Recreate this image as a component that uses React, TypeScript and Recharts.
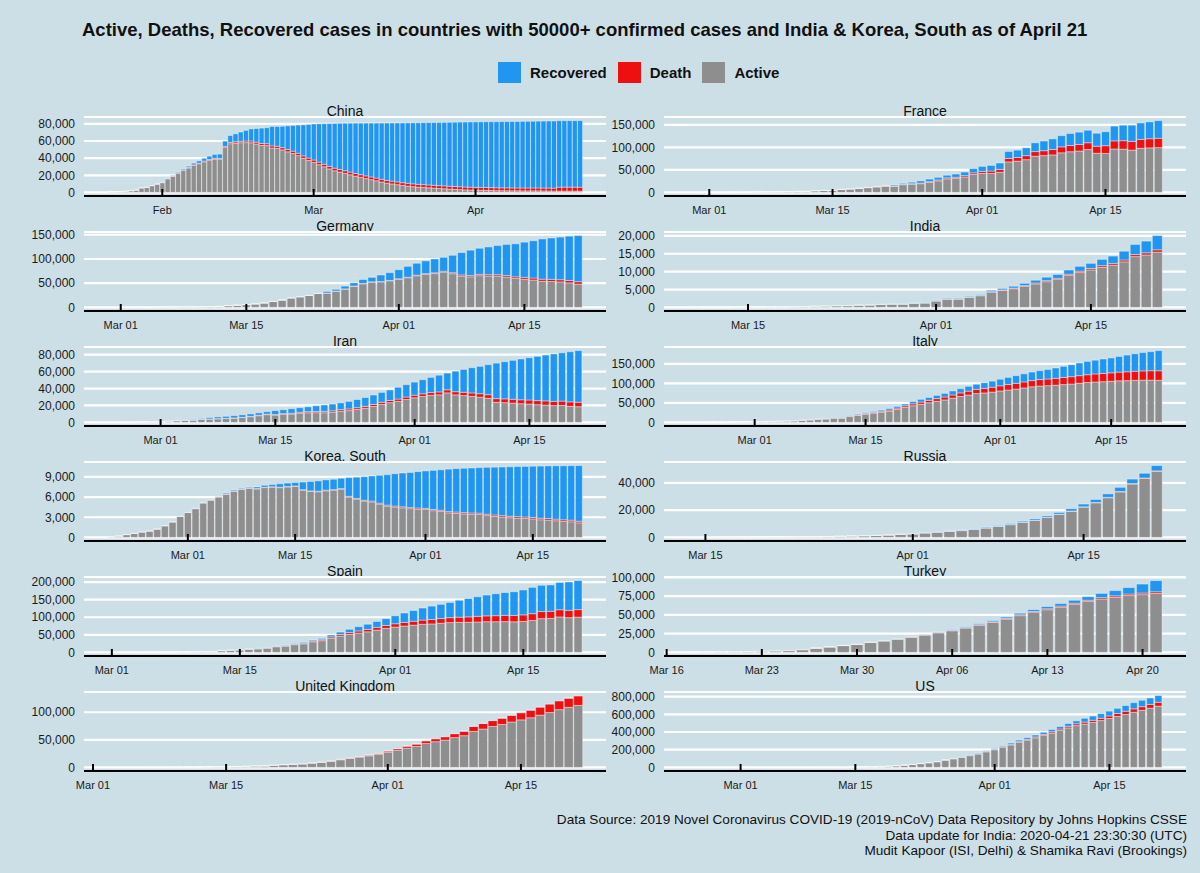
import React from 'react';
import { BarChart, Bar, XAxis, YAxis, CartesianGrid } from 'recharts';

// ---------------- DATA ----------------
const chinaStart = '2020-01-22';
const chinaActive = [503,595,858,1325,1970,2737,5277,5834,7835,9375,
  11357,15806,18677,22374,25763,28479,31395,33415,35707,37426,38640,38564,52314,56865,57457,58000,58116,58010,56553,54839,54621,51873,51409,49658,47441,45398,42958,39849,37242,
  34944,32414,29912,27450,25284,23760,22222,20600,18936,17570,16119,14862,13573,12128,10787,9910,9034,8110,7376,6731,6189,5799,5410,5030,4603,4310,3881,3600,3236,2967,2764,
  2640,2545,2425,2267,2062,2020,1973,1905,1865,1810,1794,1835,1829,1761,1699,1656,1495,1491,1489,1476,1477];
const chinaDeaths = [17,18,26,42,56,82,131,133,171,213,
  259,361,425,490,562,632,717,804,904,1011,1111,1116,1368,1520,1662,1765,1863,2002,2114,2236,2236,2441,2443,2593,2663,2715,2744,2788,2835,
  2870,2912,2945,2981,3013,3042,3070,3097,3120,3136,3158,3169,3176,3189,3199,3213,3226,3237,3245,3253,3259,3274,3274,3281,3285,3291,3296,3299,3304,3308,3309,
  3316,3322,3326,3330,3333,3335,3335,3337,3339,3340,3343,3343,3345,3345,3346,3346,4636,4636,4636,4636,4636];
const chinaRecovered = [28,30,36,39,49,58,101,120,135,214,
  275,463,614,843,1115,1476,1998,2595,3218,3917,4635,5079,6213,7973,9294,10748,12455,14199,15952,18002,18693,22687,23170,24990,27650,30053,32898,36291,39279,
  42118,44810,47404,49955,52240,53888,55478,57126,58804,60181,61644,62901,64196,65660,67017,67910,68798,69755,70535,71266,71857,72362,72814,73280,73773,74181,74720,75100,75582,75923,76206,
  76405,76565,76760,76946,77207,77310,77410,77567,77679,77791,77877,77956,78039,78200,78311,78401,77629,77660,77680,77705,77740];

const franceStart = '2020-02-28';
const franceActive = [44,86,
  116,176,188,272,362,635,936,1105,1188,1749,2233,2233,3590,4393,4429,6523,7555,8868,10586,12296,13889,13369,17056,18241,19321,22155,25683,30067,30876,34182,39791,
  42293,41994,44560,67716,69346,72624,80214,81638,83158,87802,90232,91808,95192,86827,86460,96359,96029,93843,97801,98806,99320];
const franceDeaths = [2,2,
  2,3,4,4,6,9,11,19,19,33,48,48,79,91,91,148,148,244,372,450,562,674,860,1100,1331,1696,1995,2314,2606,3024,3523,
  4403,5387,6507,7560,8078,8911,10328,10869,12210,13197,13832,14393,14967,15729,17167,17920,18681,19323,19718,20265,20796];
const franceRecovered = [11,12,
  12,12,12,12,12,12,12,12,12,12,12,12,12,12,12,12,12,12,12,12,12,2200,2207,3281,4948,5700,5724,5724,7226,7964,9513,
  11053,12548,14135,15572,16349,17428,19523,21452,23413,24932,26663,27469,27718,28805,30955,32812,34420,35983,36578,37409,39181];

const germanyStart = '2020-02-29';
const germanyActive = [63,
  114,143,180,246,466,653,781,1022,1156,1437,1880,2050,3622,4530,5738,7188,9166,12194,15163,19601,21896,24513,28667,29586,33570,37998,43871,48781,52351,52740,54933,
  58252,61247,65309,68248,69839,72864,69566,64647,63167,65491,64772,64532,62578,59865,58349,56646,53931,53483,52598,50703,48058];
const germanyDeaths = [0,
  0,0,0,0,0,0,0,0,2,2,3,3,7,9,11,17,24,28,44,67,84,94,123,157,206,267,342,433,533,645,775,
  920,1107,1275,1444,1584,1810,2016,2349,2607,2767,2736,3022,3194,3294,3804,4052,4352,4459,4586,4862,5033];
const germanyRecovered = [16,
  16,16,16,16,16,17,18,18,18,18,25,25,46,46,46,67,67,105,113,180,233,266,266,3243,3547,5673,6658,8481,9211,13500,16100,
  18700,22440,24575,26400,28700,28700,36081,46300,52407,53913,57400,60300,64300,68200,72600,77000,83114,85400,88000,91500,95200];

const indiaStart = '2020-03-10';
const indiaActive = [52,57,68,76,96,98,104,125,139,175,219,303,362,462,486,602,662,794,879,902,1117,1239,
  1792,2280,2303,2767,3260,4267,4740,5232,5879,6578,7189,7794,8914,9735,10485,11214,11825,12738,14202,14674,15460];
const indiaDeaths = [0,1,1,2,2,2,2,3,3,4,5,4,7,10,10,12,20,20,24,27,32,35,
  58,72,72,86,99,136,150,178,226,246,288,331,358,393,405,448,486,521,559,592,645];
const indiaRecovered = [4,4,4,4,4,13,13,14,14,15,20,23,27,27,40,43,45,73,84,95,102,123,
  148,191,192,229,229,375,421,506,620,774,969,1080,1181,1359,1432,1768,2041,2463,2854,3273,3975];

const iranStart = '2020-02-24';
const iranActive = [49,79,71,170,281,427,
  749,1144,1968,2278,2667,3710,4009,4238,4530,5020,5687,6687,7891,9159,8624,9548,9792,10837,11413,11466,11419,12022,13306,13964,15315,16715,18821,21212,23278,24827,27051,
  29084,30597,31954,32555,34887,32525,31678,30781,29801,28495,23725,23318,22735,22065,21679,20897,20472,19850,20070,19023,18540];
const iranDeaths = [12,16,19,26,34,43,
  54,66,77,92,107,124,145,194,237,291,354,429,514,611,724,853,988,1135,1284,1433,1556,1685,1812,1934,2077,2234,2378,2517,2640,2757,2898,
  3036,3160,3294,3452,3603,3739,3872,3993,4110,4232,4357,4474,4585,4683,4777,4869,4958,5031,5118,5209,5297];
const iranRecovered = [0,0,49,49,73,123,
  175,291,291,552,739,913,1669,2134,2394,2731,2959,2959,2959,2959,4590,4590,5389,5389,5710,6745,7635,7931,7931,8913,9625,10457,11133,11679,12391,13911,14656,
  15473,16711,17935,19736,19736,24236,27039,29812,32309,35465,41947,43894,45983,48129,49933,52229,54064,55987,57023,59273,60965];

const italyStart = '2020-02-22';
const italyActive = [59,150,221,311,438,593,821,1053,
  1577,1835,2263,2706,3296,3916,5061,6387,7985,8794,10590,10590,14955,17750,20603,23073,26062,28710,33190,38549,42681,46638,50418,54030,57521,62013,66414,70065,73880,75528,77635,
  80572,83049,85388,88274,91246,93187,94067,95262,96877,98273,100269,102253,103616,104291,105418,106607,106962,107771,108257,108237,107709];
const italyDeaths = [2,3,7,10,12,17,21,29,
  34,52,79,107,148,197,233,366,463,631,827,827,1266,1441,1809,2158,2503,2978,3405,4032,4825,5476,6077,6820,7503,8215,9134,10023,10779,11591,12428,
  13155,13915,14681,15362,15887,16523,17127,17669,18279,18849,19468,19899,20465,21067,21645,22170,22745,23227,23660,24114,24648];
const italyRecovered = [1,2,1,1,3,45,46,46,
  83,149,160,276,414,523,589,622,724,724,1045,1045,1439,1966,2335,2749,2941,4025,4440,4440,6072,7024,7432,8326,9362,10361,10950,12384,13030,14620,15729,
  16847,18278,19758,20996,21815,22837,24392,26491,28470,30455,32534,34211,35435,37130,38092,40164,42727,44927,47055,48877,51600];

const koreaStart = '2020-02-20';
const koreaActive = [87,186,415,578,807,945,1227,1731,2302,3107,
  3689,4277,5128,5545,6012,6416,6862,7146,7307,7212,7407,7470,7403,7504,7577,7024,6832,6789,6934,7018,7157,6000,5684,5410,5281,4966,4665,4523,4398,4275,4216,
  4155,3979,3867,3654,3591,3500,3445,3408,3246,3125,3026,2930,2873,2808,2750,2627,2576,2484,2385,2324,2169];
const koreaDeaths = [1,2,2,6,8,10,12,13,13,16,
  17,28,28,35,35,42,44,50,53,54,60,66,66,72,75,75,81,84,91,94,102,104,111,120,126,131,139,144,152,158,162,
  165,169,174,177,183,186,192,200,204,208,211,214,217,222,225,229,230,232,234,236,237];
const koreaRecovered = [16,16,16,18,18,22,22,22,22,27,
  30,30,30,41,41,135,135,118,118,247,288,333,510,510,510,1137,1407,1540,1540,1540,1540,2793,3166,3507,3730,4144,4528,4811,5033,5228,5408,
  5567,5828,6021,6325,6463,6598,6694,6776,6973,7117,7243,7368,7447,7534,7616,7757,7829,7937,8042,8114,8277];

const russiaStart = '2020-03-14';
const russiaActive = [57,58,85,109,139,189,240,293,350,420,472,626,799,983,1211,1462,1761,2199,
  2563,3283,3834,4355,4989,5890,6945,8029,9357,11028,12433,14595,16889,19238,22306,25402,29145,33423,39201,43270,48434];
const russiaDeaths = [0,0,0,0,0,1,1,1,1,1,1,3,3,4,4,8,9,17,
  24,30,34,43,45,47,58,63,76,94,106,130,148,170,198,232,273,313,361,405,456];
const russiaRecovered = [2,5,5,5,8,9,12,12,16,17,22,29,38,49,49,64,66,121,
  190,235,281,333,355,406,494,580,698,795,1045,1045,1291,1694,1986,2304,2590,3057,3291,3446,3873];

const spainStart = '2020-03-01';
const spainActive = [82,118,162,218,254,393,460,626,1013,1628,2040,2039,4906,5679,6992,9070,10187,12206,16026,17779,21874,24421,30250,33283,40501,46406,51224,54968,58598,63460,68200,
  72084,74974,77488,80002,80925,82897,84689,85407,85610,86524,87312,87231,87616,86981,88083,90836,96040,96886,100864,98771,100382];
const spainDeaths = [0,0,1,2,3,5,10,17,28,35,54,55,133,195,289,342,533,623,830,1043,1375,1772,2311,2808,3647,4365,5138,5982,6803,7716,8464,
  9387,10348,11198,11947,12641,13341,14045,14792,15447,16081,16606,17209,17756,18056,18708,19315,20002,20043,20453,20852,21282];
const spainRecovered = [2,2,2,2,2,2,30,30,32,32,183,183,193,517,517,530,1028,1081,1107,1588,2125,2575,2575,3794,5367,7015,9357,12285,14709,16780,19259,
  22647,26743,30513,34219,38080,40437,43208,48021,52165,55668,59109,62391,64727,67504,70853,74797,74797,74797,77357,80587,82514];

const turkeyStart = '2020-03-18';
const turkeyActive = [188,355,661,926,1206,1492,1828,2374,3554,5580,7268,9044,10589,13212,
  15240,17536,20163,23018,26011,28782,32342,36088,39792,44177,48924,53335,56788,60262,63917,67751,71103,73350,75658,76864,78414];
const turkeyDeaths = [3,4,9,21,30,37,44,59,75,92,108,131,168,214,
  277,356,425,501,574,649,725,812,908,1006,1101,1198,1296,1403,1518,1643,1769,1890,2017,2140,2259];
const turkeyRecovered = [0,0,0,0,0,0,0,0,0,26,26,42,70,105,
  162,243,333,415,484,786,1042,1326,1582,1846,2142,2423,2965,3446,3957,4799,5674,7089,8631,11976,14918];

const ukStart = '2020-03-03';
const ukActive = [43,77,106,153,186,252,299,358,430,430,772,1100,1103,1443,1851,2503,2511,3769,4766,5396,6255,7606,9039,11097,13833,16140,18398,20891,23509,
  27329,31055,34870,37942,43264,46607,49453,54018,57520,65272,69614,74209,77855,82348,86195,89992,94768,99422,104683,108912,112400];
const ukDeaths = [0,0,1,2,2,3,4,6,8,8,8,21,21,56,56,72,138,178,234,282,336,423,466,580,761,1021,1231,1411,1793,
  2357,2926,3611,4320,4943,5385,6171,7111,7993,8974,9892,10629,11347,12129,12894,13759,14607,15498,16095,16550,17378];
const ukRecovered = [8,8,8,8,18,18,18,18,18,18,18,19,19,52,53,67,67,67,67,67,135,135,135,135,151,151,151,151,179,
  179,192,208,215,229,287,325,345,359,359,368,368,368,368,394,394,394,394,394,394,394];

const usStart = '2020-02-24';
const usActive = [46,46,52,53,53,60,
  66,85,104,131,198,241,378,490,554,923,1237,1615,2120,2661,3424,4530,6296,7563,13359,18710,25010,32671,42947,52673,64155,81758,97631,114242,132354,151805,175825,
  199484,227989,253628,282795,307602,333771,360840,388549,417512,446679,472945,489811,509327,529742,553322,576340,598093,623196,646096,669903,691816];
const usDeaths = [0,0,0,0,0,1,
  1,6,7,11,12,14,17,21,22,28,36,40,47,54,63,85,108,118,200,244,307,427,552,706,942,1209,1581,2026,2467,2978,3873,
  4757,5926,7087,8407,9619,10783,12722,14695,16478,18586,20463,22020,23529,25832,28325,32916,36773,38664,40661,42094,44845];
const usRecovered = [5,5,5,5,7,7,
  7,7,7,7,7,7,7,7,7,8,8,8,12,12,12,17,17,105,121,147,176,178,348,361,681,869,2445,5210,6065,7024,8474,
  9001,9707,14652,17448,19581,21763,23559,25410,28790,31270,32988,43482,47763,52096,54703,58545,64840,70337,72329,72329,75204];

// tick values / labels
const monthTicks = ['2020-02-01', '2020-03-01', '2020-04-01'];
const monthLabels = ['Feb', 'Mar', 'Apr'];
const fourTicks = ['2020-03-01', '2020-03-15', '2020-04-01', '2020-04-15'];
const fourLabels = ['Mar 01', 'Mar 15', 'Apr 01', 'Apr 15'];
const threeTicks = ['2020-03-15', '2020-04-01', '2020-04-15'];
const threeLabels = ['Mar 15', 'Apr 01', 'Apr 15'];
const weekTicks = ['2020-03-16', '2020-03-23', '2020-03-30', '2020-04-06', '2020-04-13', '2020-04-20'];
const weekLabels = ['Mar 16', 'Mar 23', 'Mar 30', 'Apr 06', 'Apr 13', 'Apr 20'];

const yTicks80k = [0, 20000, 40000, 60000, 80000];
const yTicks150k = [0, 50000, 100000, 150000];
const yTicks20k = [0, 5000, 10000, 15000, 20000];
const yTicks9k = [0, 3000, 6000, 9000];
const yTicks40k = [0, 20000, 40000];
const yTicks200k = [0, 50000, 100000, 150000, 200000];
const yTicks100k = [0, 25000, 50000, 75000, 100000];
const yTicksUK = [0, 50000, 100000];
const yTicksUS = [0, 200000, 400000, 600000, 800000];

const titleText = 'Active, Deaths, Recovered cases in countries with 50000+ confirmed cases and India & Korea, South as of April 21';
const legendNames = ['Recovered', 'Death', 'Active'];
const captionLines = [
  'Data Source: 2019 Novel Coronavirus COVID-19 (2019-nCoV) Data Repository by Johns Hopkins CSSE',
  'Data update for India: 2020-04-21 23:30:30 (UTC)',
  'Mudit Kapoor (ISI, Delhi) & Shamika Ravi (Brookings)',
];

// ---------------- STYLE / LAYOUT ----------------
const FONT = '"Liberation Sans", Arial, Helvetica, sans-serif';
const BG = '#cddfe6';
const C_ACTIVE = '#8e8e8e';
const C_DEATH = '#ee1010';
const C_RECOVERED = '#2196f0';
const PLOT_W = 522;
const PLOT_H = 79;
const Y_W = 80;
const X_H = 30;
const M_TOP = 10;
const COL_LEFT = [84, 664];
const ROW_TOP0 = 117.3;
const ROW_STEP = 115;

const panels = [
  { name: 'China', start: chinaStart, active: chinaActive, deaths: chinaDeaths, recovered: chinaRecovered, yTicks: yTicks80k, xTicks: monthTicks, xLabels: monthLabels, col: 0, row: 0 },
  { name: 'France', start: franceStart, active: franceActive, deaths: franceDeaths, recovered: franceRecovered, yTicks: yTicks150k, xTicks: fourTicks, xLabels: fourLabels, col: 1, row: 0 },
  { name: 'Germany', start: germanyStart, active: germanyActive, deaths: germanyDeaths, recovered: germanyRecovered, yTicks: yTicks150k, xTicks: fourTicks, xLabels: fourLabels, col: 0, row: 1 },
  { name: 'India', start: indiaStart, active: indiaActive, deaths: indiaDeaths, recovered: indiaRecovered, yTicks: yTicks20k, xTicks: threeTicks, xLabels: threeLabels, col: 1, row: 1 },
  { name: 'Iran', start: iranStart, active: iranActive, deaths: iranDeaths, recovered: iranRecovered, yTicks: yTicks80k, xTicks: fourTicks, xLabels: fourLabels, col: 0, row: 2 },
  { name: 'Italy', start: italyStart, active: italyActive, deaths: italyDeaths, recovered: italyRecovered, yTicks: yTicks150k, xTicks: fourTicks, xLabels: fourLabels, col: 1, row: 2 },
  { name: 'Korea, South', start: koreaStart, active: koreaActive, deaths: koreaDeaths, recovered: koreaRecovered, yTicks: yTicks9k, xTicks: fourTicks, xLabels: fourLabels, col: 0, row: 3 },
  { name: 'Russia', start: russiaStart, active: russiaActive, deaths: russiaDeaths, recovered: russiaRecovered, yTicks: yTicks40k, xTicks: threeTicks, xLabels: threeLabels, col: 1, row: 3 },
  { name: 'Spain', start: spainStart, active: spainActive, deaths: spainDeaths, recovered: spainRecovered, yTicks: yTicks200k, xTicks: fourTicks, xLabels: fourLabels, col: 0, row: 4 },
  { name: 'Turkey', start: turkeyStart, active: turkeyActive, deaths: turkeyDeaths, recovered: turkeyRecovered, yTicks: yTicks100k, xTicks: weekTicks, xLabels: weekLabels, col: 1, row: 4 },
  { name: 'United Kingdom', start: ukStart, active: ukActive, deaths: ukDeaths, recovered: ukRecovered, yTicks: yTicksUK, xTicks: fourTicks, xLabels: fourLabels, col: 0, row: 5 },
  { name: 'US', start: usStart, active: usActive, deaths: usDeaths, recovered: usRecovered, yTicks: yTicksUS, xTicks: fourTicks, xLabels: fourLabels, col: 1, row: 5 },
];

function dayNum(s: string): number {
  const [y, m, d] = s.split('-').map(Number);
  return Math.round((Date.UTC(y, m - 1, d) - Date.UTC(2020, 0, 1)) / 86400000);
}

const fmt = (v: number) => Number(v).toLocaleString('en-US');

function XTick(props: any) {
  const { x, y, payload, labels } = props;
  return (
    <g>
      <line x1={x} x2={x} y1={y - 7} y2={y} stroke="#000" strokeWidth={2} />
      <text x={x} y={y + 14} textAnchor="middle" dominantBaseline="central" fontSize={11} fill="#1a1a1a" fontFamily={FONT}>
        {labels[payload.value]}
      </text>
    </g>
  );
}

function Panel({ p }: { p: any }) {
  const N = p.active.length;
  const d0 = dayNum(p.start);
  const rows = p.active.map((a: number, i: number) => ({
    cat: String(d0 + i),
    day: d0 + i,
    active: a,
    death: p.deaths[i],
    recovered: p.recovered[i],
  }));
  const max = Math.max(...rows.map((r: any) => r.active + r.death + r.recovered));
  const yDomain = [-0.05 * max, 1.05 * max];
  const u = PLOT_W / (1.1 * (N - 0.1));
  const pad = 0.05 * (N - 1.1) * u;
  const ext = 0.05 * (N - 0.1) + 0.45;
  const xDomain = [d0 - ext, d0 + N - 1 + ext];
  const tickDays = p.xTicks.map(dayNum);
  const labelMap: Record<number, string> = {};
  tickDays.forEach((d: number, i: number) => { labelMap[d] = p.xLabels[i]; });
  const left = COL_LEFT[p.col];
  const top = ROW_TOP0 + ROW_STEP * p.row;
  return (
    <>
      <svg style={{ position: 'absolute', left, top: top - 20, overflow: 'hidden' }} width={PLOT_W} height={20}>
        <text x={PLOT_W / 2} y={19.4} textAnchor="middle" fontSize={14} fill="#111" fontFamily={FONT}>{p.name}</text>
      </svg>
      <div style={{ position: 'absolute', left: left - Y_W, top: top - M_TOP }}>
        <BarChart
          width={Y_W + PLOT_W + 10}
          height={PLOT_H + X_H + M_TOP}
          data={rows}
          margin={{ top: M_TOP, right: 10, bottom: 0, left: 0 }}
          barCategoryGap="5%"
          barGap={0}
        >
          <CartesianGrid horizontal vertical={false} stroke="#ffffff" strokeWidth={2.2} xAxisId="num" />
          <XAxis
            xAxisId="num"
            dataKey="day"
            type="number"
            domain={xDomain}
            allowDataOverflow
            ticks={tickDays}
            interval={0}
            height={X_H}
            tickSize={0}
            tickMargin={0}
            tickLine={false}
            axisLine={{ stroke: '#000', strokeWidth: 2 }}
            tick={(tp: any) => <XTick {...tp} labels={labelMap} />}
          />
          <XAxis xAxisId="cat" dataKey="cat" type="category" hide height={0} padding={{ left: pad, right: pad }} />
          <YAxis
            type="number"
            domain={yDomain}
            allowDataOverflow
            ticks={p.yTicks}
            interval={0}
            width={Y_W}
            tickSize={0}
            tickMargin={9}
            axisLine={false}
            tickLine={false}
            tick={{ fontSize: 12, fill: '#1a1a1a', fontFamily: FONT }}
            tickFormatter={fmt}
          />
          <Bar xAxisId="cat" dataKey="active" stackId="s" fill={C_ACTIVE} stroke="#ffffff" strokeWidth={0.4} isAnimationActive={false} />
          <Bar xAxisId="cat" dataKey="death" stackId="s" fill={C_DEATH} stroke="#ffffff" strokeWidth={0.4} isAnimationActive={false} />
          <Bar xAxisId="cat" dataKey="recovered" stackId="s" fill={C_RECOVERED} stroke="#ffffff" strokeWidth={0.4} isAnimationActive={false} />
        </BarChart>
      </div>
    </>
  );
}

const legendColors = [C_RECOVERED, C_DEATH, C_ACTIVE];

export default function App() {
  return (
    <div style={{ position: 'absolute', left: 0, top: 0, width: 1200, height: 873, background: BG, fontFamily: FONT, overflow: 'hidden' }}>
      <div style={{ position: 'absolute', left: 82, top: 19, fontSize: 18.5, lineHeight: '22px', fontWeight: 700, color: '#111', whiteSpace: 'nowrap' }}>
        {titleText}
      </div>
      <div style={{ position: 'absolute', left: 498, top: 61, height: 22, display: 'flex', alignItems: 'center' }}>
        {legendNames.map((n, i) => (
          <div key={n} style={{ display: 'flex', alignItems: 'center', marginRight: 11 }}>
            <div style={{ width: 23, height: 21, background: legendColors[i], marginRight: 9 }} />
            <span style={{ fontSize: 15, fontWeight: 700, color: '#111' }}>{n}</span>
          </div>
        ))}
      </div>
      {panels.map((p) => <Panel key={p.name} p={p} />)}
      <div style={{ position: 'absolute', right: 13, top: 812, fontSize: 13.6, lineHeight: '15.5px', textAlign: 'right', color: '#111', whiteSpace: 'nowrap' }}>
        {captionLines.map((l) => <div key={l}>{l}</div>)}
      </div>
    </div>
  );
}
